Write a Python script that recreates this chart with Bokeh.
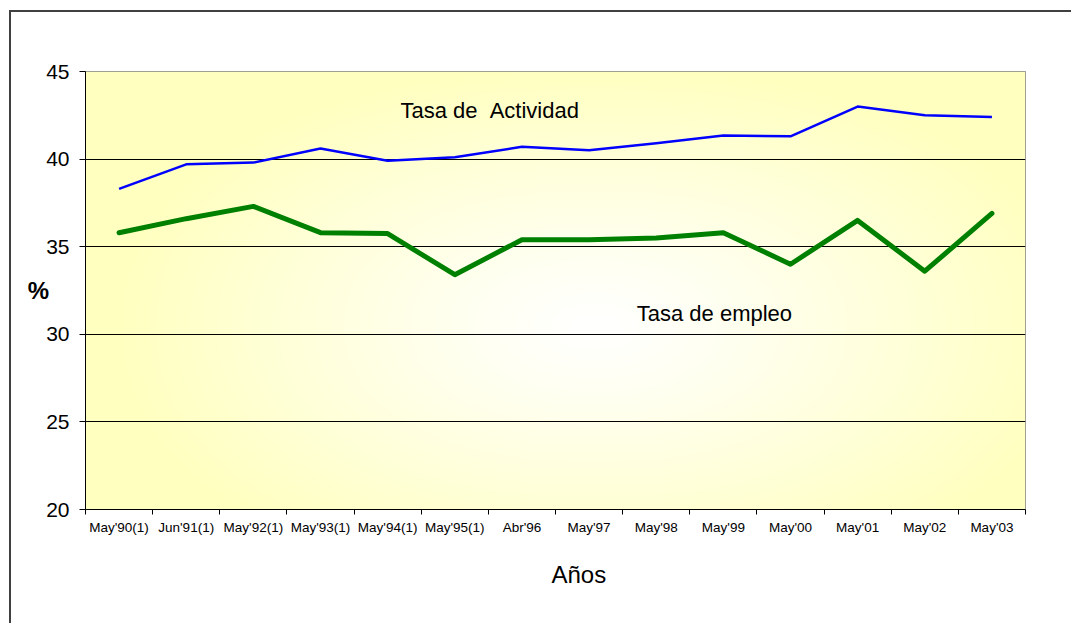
import numpy as np
from bokeh.plotting import figure
from bokeh.models import FixedTicker, LinearAxis, Label, Range1d, Title
from bokeh.embed import file_html
from bokeh.resources import INLINE

categories = ["May'90(1)", "Jun'91(1)", "May'92(1)", "May'93(1)", "May'94(1)",
              "May'95(1)", "Abr'96", "May'97", "May'98", "May'99", "May'00",
              "May'01", "May'02", "May'03"]
tasa_actividad = [38.3, 39.7, 39.8, 40.6, 39.9, 40.1, 40.7, 40.5, 40.9, 41.35,
                  41.3, 43.0, 42.5, 42.4]
tasa_empleo = [35.8, 36.6, 37.3, 35.8, 35.75, 33.4, 35.4, 35.4, 35.5, 35.8,
               34.0, 36.5, 33.6, 36.9]
y_ticks = [20, 25, 30, 35, 40, 45]

FONT = "Liberation Sans"
n = len(categories)
xs = list(range(1, n + 1))
bounds = [i + 0.5 for i in range(n + 1)]

p = figure(width=1062, height=613,
           x_range=Range1d(0.5, n + 0.5), y_range=Range1d(y_ticks[0], y_ticks[-1]),
           output_backend="svg", toolbar_location=None,
           x_axis_location=None, y_axis_location="left",
           min_border_left=74, min_border_top=59,
           min_border_right=48, min_border_bottom=116)
p.styles = {"border-left": "2px solid #404040", "border-top": "2px solid #404040",
            "margin-left": "9px", "margin-top": "10px"}
p.background_fill_color = "white"
p.border_fill_color = "white"
p.outline_line_color = "#808080"
p.outline_line_width = 1
p.xgrid.visible = False

# background gradient (pale yellow edges, white centre)
nx, ny = 940, 438
gx = np.linspace(0, 940, nx)[None, :]
gy = np.linspace(438, 0, ny)[:, None]  # distance from top; row 0 = bottom
cx, cy = 510, 255
rx, ry = 480, 260
t = ((np.abs(gx - cx) / rx) ** 2.2 + (np.abs(gy - cy) / ry) ** 2.2) ** (1 / 2.2)
t = np.clip(t, 0, 1) ** 1.15
img = np.empty((ny, nx), dtype=np.uint32)
v = img.view(dtype=np.uint8).reshape((ny, nx, 4))
v[:, :, 0] = 255
v[:, :, 1] = 255
v[:, :, 2] = (255 - (255 - 192) * t).astype(np.uint8)
v[:, :, 3] = 255
p.image_rgba(image=[img], x=0.5, y=y_ticks[0], dw=n, dh=y_ticks[-1] - y_ticks[0],
             level="image")

# y axis
p.yaxis.ticker = FixedTicker(ticks=y_ticks)
p.yaxis.major_label_text_font = FONT
p.yaxis.major_label_text_font_size = "21px"
p.yaxis.major_label_text_color = "black"
p.yaxis.major_label_standoff = 10
p.yaxis.major_tick_out = 6
p.yaxis.major_tick_in = 0
p.yaxis.minor_tick_line_color = None
p.yaxis.axis_line_color = "black"
p.yaxis.major_tick_line_color = "black"
p.yaxis.axis_label = "%"
p.yaxis.axis_label_orientation = "horizontal"
p.yaxis.axis_label_text_font = FONT
p.yaxis.axis_label_text_font_size = "24px"
p.yaxis.axis_label_text_font_style = "bold"
p.yaxis.axis_label_text_color = "black"
p.yaxis.axis_label_standoff = -6
p.ygrid.ticker = FixedTicker(ticks=y_ticks)
p.ygrid.grid_line_color = "black"
p.ygrid.grid_line_width = 1

# x axis: ticks between categories, labels at categories
tick_axis = LinearAxis(ticker=FixedTicker(ticks=bounds),
                       major_label_text_font_size="0px",
                       major_label_text_color=None,
                       major_label_standoff=0,
                       major_tick_out=5, major_tick_in=0,
                       minor_tick_line_color=None,
                       axis_line_color="black", major_tick_line_color="black")
label_axis = LinearAxis(ticker=FixedTicker(ticks=xs),
                        major_label_overrides={x: c for x, c in zip(xs, categories)},
                        axis_line_color=None, major_tick_line_color=None,
                        minor_tick_line_color=None,
                        major_tick_out=0, major_tick_in=0,
                        major_label_standoff=5,
                        major_label_text_font=FONT,
                        major_label_text_font_size="13.5px",
                        major_label_text_color="black")
p.add_layout(tick_axis, "below")
p.add_layout(label_axis, "below")

p.add_layout(Title(text="Años", align="left", offset=466, standoff=42,
                   text_font=FONT, text_font_size="24px",
                   text_font_style="normal", text_color="black"), "below")

# series
p.line(xs, tasa_actividad, line_color="#0000FF", line_width=2.5, line_join="round")
p.line(xs, tasa_empleo, line_color="#008000", line_width=5, line_join="round",
       line_cap="round")

# texts
p.add_layout(Label(x=5.19, y=42.77, text="Tasa de \u00a0Actividad", text_font=FONT,
                   text_font_size="22px", text_color="black",
                   text_baseline="middle", text_align="left"))
p.add_layout(Label(x=8.71, y=31.19, text="Tasa de empleo", text_font=FONT,
                   text_font_size="22px", text_color="black",
                   text_baseline="middle", text_align="left"))

open("out.html", "w").write(file_html(p, INLINE))
